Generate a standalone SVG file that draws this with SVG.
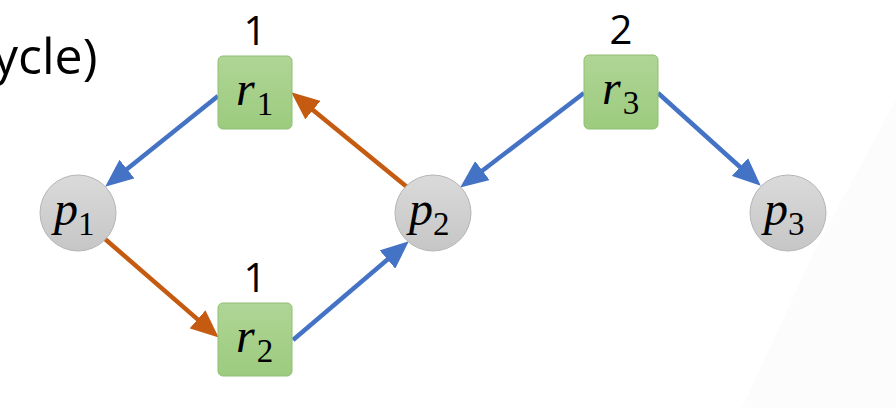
<svg xmlns="http://www.w3.org/2000/svg" width="896" height="408" viewBox="0 0 896 408">
<defs>
<linearGradient id="gGreen" x1="0" y1="0" x2="0" y2="1"><stop offset="0" stop-color="#b0d596"/><stop offset="1" stop-color="#9ccb7e"/></linearGradient>
<linearGradient id="gGray" x1="0" y1="0" x2="0" y2="1"><stop offset="0" stop-color="#dadada"/><stop offset="1" stop-color="#c6c6c6"/></linearGradient>
<marker id="ab" markerUnits="userSpaceOnUse" markerWidth="28" markerHeight="24" refX="15" refY="12" orient="auto" viewBox="0 0 28 24"><path d="M0,0 L28,12 L0,24 z" fill="#4472c4"/></marker>
<marker id="ao" markerUnits="userSpaceOnUse" markerWidth="28" markerHeight="24" refX="15" refY="12" orient="auto" viewBox="0 0 28 24"><path d="M0,0 L28,12 L0,24 z" fill="#c55a11"/></marker>
<style>
.res{fill:url(#gGreen);stroke:#8fbf72;stroke-width:1}
.proc{fill:url(#gGray);stroke:#b5b5b5;stroke-width:1}
.math{font-family:"Liberation Serif","DejaVu Serif",serif;font-style:italic;font-size:48px;fill:#000}
.sub{font-family:"Liberation Serif","DejaVu Serif",serif;font-style:normal;font-size:33px}
.num{font-family:"Open Sans","Noto Sans",sans-serif;font-size:40px;fill:#000;text-anchor:middle}
.blue{stroke:#4472c4;stroke-width:4.5;fill:none;marker-end:url(#ab)}
.orange{stroke:#c55a11;stroke-width:4.5;fill:none;marker-end:url(#ao)}
</style>
</defs>
<rect width="896" height="408" fill="#ffffff"/>
<polygon points="896,100 815,250 742,408 896,408" fill="#fcfcfc"/>
<text x="-7" y="74" font-family="Open Sans,Noto Sans,sans-serif" font-size="50" fill="#000">ycle)</text>
<g id="connectors">
<line class="blue" x1="218" y1="96" x2="115.3" y2="178.5"/>
<line class="orange" x1="105" y1="239" x2="208.9" y2="329.1"/>
<line class="orange" x1="407" y1="187" x2="301.3" y2="100.6"/>
<line class="blue" x1="293" y1="340" x2="398.9" y2="249.8"/>
<line class="blue" x1="584" y1="93" x2="470.5" y2="179.7"/>
<line class="blue" x1="658" y1="93" x2="751.1" y2="177"/>
</g>
<g id="r1">
<text class="num" x="255" y="45">1</text>
<rect class="res" x="218" y="56" width="74" height="73" rx="5"/>
<text class="math" x="236" y="105">r<tspan class="sub" dx="2" dy="10">1</tspan></text>
</g>
<g id="r2">
<text class="num" x="255" y="292">1</text>
<rect class="res" x="218" y="303" width="74" height="73" rx="5"/>
<text class="math" x="236" y="352">r<tspan class="sub" dx="2" dy="10">2</tspan></text>
</g>
<g id="r3">
<text class="num" x="621" y="44">2</text>
<rect class="res" x="584" y="55" width="74" height="74" rx="5"/>
<text class="math" x="602" y="104">r<tspan class="sub" dx="2" dy="10">3</tspan></text>
</g>
<g id="p1">
<circle class="proc" cx="78" cy="213" r="38"/>
<text class="math" x="54" y="225">p<tspan class="sub" dy="10">1</tspan></text>
</g>
<g id="p2">
<circle class="proc" cx="433" cy="213" r="38"/>
<text class="math" x="409" y="225">p<tspan class="sub" dy="10">2</tspan></text>
</g>
<g id="p3">
<circle class="proc" cx="788" cy="213" r="38"/>
<text class="math" x="764" y="225">p<tspan class="sub" dy="10">3</tspan></text>
</g>
</svg>
